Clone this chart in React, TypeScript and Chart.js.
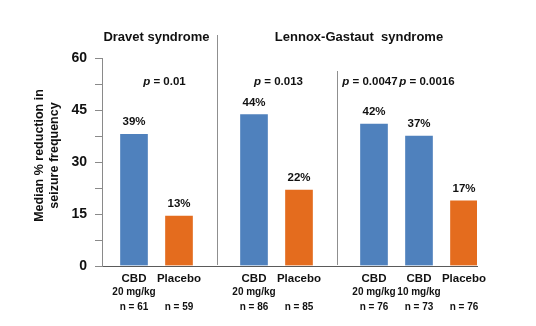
import React, { useEffect, useRef } from 'react';
import { Chart, registerables } from 'chart.js';

Chart.register(...registerables);

// ---- data ----
const groupTitles = ['Dravet syndrome', 'Lennox-Gastaut  syndrome'];
const trialGroup = [0, 1, 1];
const trialPValues = [['0.01'], ['0.013'], ['0.0047', '0.0016']];

const barNames = ['CBD', 'Placebo', 'CBD', 'Placebo', 'CBD', 'CBD', 'Placebo'];
const barDoses = ['20 mg/kg', '', '20 mg/kg', '', '20 mg/kg', '10 mg/kg', ''];
const barCounts = ['n = 61', 'n = 59', 'n = 86', 'n = 85', 'n = 76', 'n = 73', 'n = 76'];
const barValues = [38.3, 14.7, 44.0, 22.2, 41.2, 37.8, 19.1];
const barValueLabels = ['39%', '13%', '44%', '22%', '42%', '37%', '17%'];
const barTrial = [0, 0, 1, 1, 2, 2, 2];

const yTickLabels = [0, 15, 30, 45, 60];
const yTitle = ['Median % reduction in', 'seizure frequency'];

// ---- layout helpers (slots on a category axis) ----
const slotOf: number[] = [];
{
  let s = 2;
  barValues.forEach((_, i) => {
    if (i > 0) s += barTrial[i] === barTrial[i - 1] ? 3 : 5;
    slotOf.push(s);
  });
}
const nSlots = slotOf[slotOf.length - 1] + 2;
const slotLabels = Array.from({ length: nSlots }, (_, k) => {
  const b = slotOf.indexOf(k);
  return b >= 0 ? barNames[b] : '';
});
const slotData = slotLabels.map((_, k) => {
  const b = slotOf.indexOf(k);
  return b >= 0 ? barValues[b] : null;
});
const BLUE = '#4F81BD';
const ORANGE = '#E46C1E';
const slotColors = slotLabels.map((n) => (n === 'Placebo' ? ORANGE : BLUE));

const FONT = '"Liberation Sans", Arial, Helvetica, sans-serif';
const TEXT = '#111111';

const overlay = {
  id: 'overlay',
  afterDraw(chart: any) {
    const { ctx, chartArea, scales } = chart;
    const x = scales.x;
    const y = scales.y;
    const cx = (b: number) => x.getPixelForValue(slotOf[b]) + 2;
    ctx.save();

    // dividers
    ctx.strokeStyle = '#8f8f8f';
    ctx.lineWidth = 1;
    for (let i = 1; i < barValues.length; i++) {
      if (barTrial[i] === barTrial[i - 1]) continue;
      const xm = Math.round((cx(i - 1) + cx(i)) / 2) + 0.5;
      const newGroup = trialGroup[barTrial[i]] !== trialGroup[barTrial[i - 1]];
      const top = newGroup ? chartArea.top - 23 : chartArea.top + 13;
      ctx.beginPath();
      ctx.moveTo(xm, top);
      ctx.lineTo(xm, chartArea.bottom - 1);
      ctx.stroke();
    }

    ctx.fillStyle = TEXT;
    ctx.textBaseline = 'middle';

    // group titles
    ctx.font = `bold 13px ${FONT}`;
    ctx.textAlign = 'center';
    groupTitles.forEach((t, g) => {
      const bars = barValues.map((_, i) => i).filter((i) => trialGroup[barTrial[i]] === g);
      const mid = (cx(bars[0]) + cx(bars[bars.length - 1])) / 2;
      ctx.fillText(t, mid, chartArea.top - 21);
    });

    // p values
    const pY = chartArea.top + 24;
    trialPValues.forEach((ps, t) => {
      const bars = barValues.map((_, i) => i).filter((i) => barTrial[i] === t);
      ps.forEach((p, k) => {
        let center;
        if (ps.length === 1) center = (cx(bars[0]) + cx(bars[1])) / 2 + (t === 0 ? 8 : 2);
        else center = cx(bars[k]) + (k === 0 ? -4 : 8);
        ctx.font = `italic bold 11.5px ${FONT}`;
        const wp = ctx.measureText('p').width;
        ctx.font = `bold 11.5px ${FONT}`;
        const rest = ' = ' + p;
        const wr = ctx.measureText(rest).width;
        const start = center - (wp + wr) / 2;
        ctx.textAlign = 'left';
        ctx.font = `italic bold 11.5px ${FONT}`;
        ctx.fillText('p', start, pY);
        ctx.font = `bold 11.5px ${FONT}`;
        ctx.fillText(rest, start + wp, pY);
      });
    });

    // value labels
    ctx.textAlign = 'center';
    ctx.font = `bold 11.5px ${FONT}`;
    barValues.forEach((v, i) => {
      ctx.fillText(barValueLabels[i], cx(i), y.getPixelForValue(v) - 11);
    });

    // x labels
    barValues.forEach((_, i) => {
      ctx.font = `bold 11.5px ${FONT}`;
      ctx.fillText(barNames[i], cx(i), chartArea.bottom + 13);
      ctx.font = `bold 10px ${FONT}`;
      if (barDoses[i]) ctx.fillText(barDoses[i], cx(i), chartArea.bottom + 26);
      ctx.fillText(barCounts[i], cx(i), chartArea.bottom + 41);
    });

    // y title
    ctx.font = `bold 12.5px ${FONT}`;
    const yMid = (chartArea.top + chartArea.bottom) / 2 - 6.5;
    yTitle.forEach((line, k) => {
      ctx.save();
      ctx.translate(40 + k * 15, yMid);
      ctx.rotate(-Math.PI / 2);
      ctx.textAlign = 'center';
      ctx.fillText(line, 0, 0);
      ctx.restore();
    });

    ctx.restore();
  },
};

export default function App() {
  const ref = useRef<HTMLCanvasElement | null>(null);
  useEffect(() => {
    if (!ref.current) return;
    const chart = new Chart(ref.current, {
      type: 'bar',
      data: {
        labels: slotLabels,
        datasets: [
          {
            data: slotData as any,
            backgroundColor: slotColors,
            borderColor: 'rgba(255,255,255,0.5)',
            borderWidth: 1,
            barThickness: 29,
          },
        ],
      },
      options: {
        animation: false,
        responsive: false,
        devicePixelRatio: 1,
        layout: { padding: { left: 0, right: 59, top: 58, bottom: 60 } },
        plugins: { legend: { display: false }, tooltip: { enabled: false }, title: { display: false } },
        datasets: { bar: {} },
        scales: {
          x: {
            type: 'category',
            offset: false,
            grid: { display: false },
            border: { display: true, color: '#5a5a5a', width: 1 },
            ticks: { display: false },
            afterFit: (s: any) => {
              s.height = 0;
            },
          },
          y: {
            min: 0,
            max: 60,
            grid: { drawOnChartArea: false, drawTicks: true, tickLength: 7, color: '#8a8a8a' },
            border: { display: true, color: '#8a8a8a', width: 1 },
            ticks: {
              stepSize: 7.5,
              autoSkip: false,
              padding: 8,
              color: TEXT,
              font: { family: FONT, size: 14, weight: 'bold' },
              callback: (v: any) => (yTickLabels.includes(Number(v)) ? String(v) : ''),
            },
            afterFit: (s: any) => {
              s.width = 102;
            },
          },
        },
      },
      plugins: [
        {
          id: 'shiftBars',
          beforeDatasetsDraw(chart: any) {
            const meta = chart.getDatasetMeta(0);
            meta.data.forEach((el: any) => {
              if (!el._shifted) {
                el.x += 2;
                el._shifted = true;
              }
            });
          },
        },
        overlay,
      ],
    } as any);
    return () => chart.destroy();
  }, []);
  return (
    <div style={{ position: 'absolute', left: 0, top: 0, width: 536, height: 326, background: '#fff' }}>
      <canvas ref={ref} width={536} height={326} style={{ display: 'block' }} />
    </div>
  );
}
